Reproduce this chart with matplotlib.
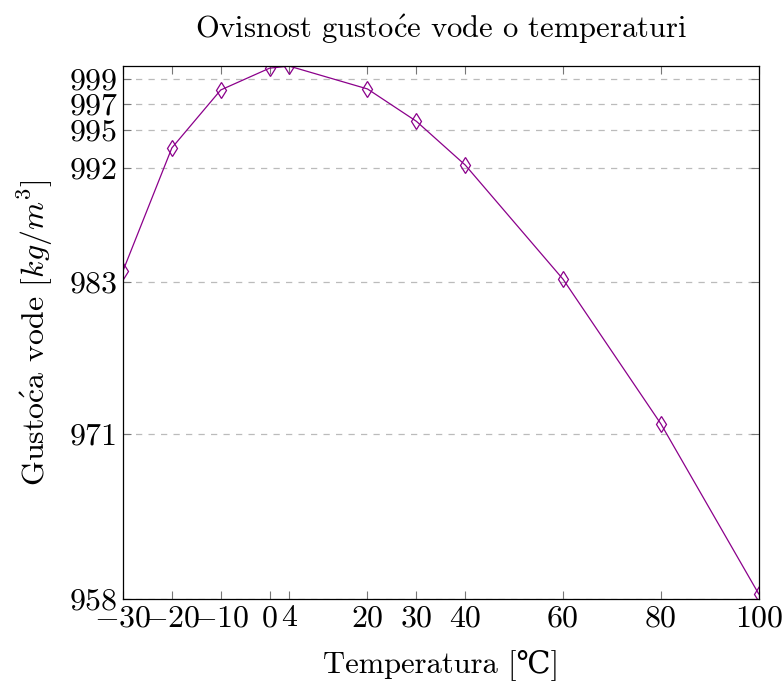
import numpy as np
import matplotlib
matplotlib.use('Agg')
import matplotlib.pyplot as plt

plt.rcParams['font.family'] = ['cmr10', 'DejaVu Serif']
plt.rcParams['mathtext.fontset'] = 'cm'
plt.rcParams['axes.formatter.use_mathtext'] = True

# podaci: temperatura [°C] i gustoća vode [kg/m^3]
temperatura = [-30, -20, -10, 0, 4, 20, 30, 40, 60, 80, 100]
gustoca = [983.85, 993.55, 998.12, 999.84, 1000.0, 998.2, 995.65, 992.2, 983.2, 971.8, 958.4]
x_ticks = [-30, -20, -10, 0, 4, 20, 30, 40, 60, 80, 100]
y_ticks = [958, 971, 983, 992, 995, 997, 999]

fig = plt.figure(figsize=(7.83, 6.85), dpi=100)
ax = fig.add_axes([0.157, 0.1255, 0.812, 0.778])

ax.plot(temperatura, gustoca, color='#8b008b', lw=0.9, marker='d',
        markersize=8, markerfacecolor='none', markeredgecolor='#8b008b', markeredgewidth=0.9)

ax.set_xlim(-30, 100)
ax.set_ylim(958, 1000)
ax.set_xticks(x_ticks)
ax.set_xticklabels([r'$%d$' % t if t < 0 else str(t) for t in x_ticks])
ax.set_yticks(y_ticks)
ax.set_yticklabels([str(t) for t in y_ticks])
ax.yaxis.grid(True, linestyle=(0, (5, 5)), color='#bbbbbb', lw=0.9)
ax.tick_params(direction='in', top=True, right=True, length=6, width=0.8,
               color='#777777', labelsize=23, pad=4)
for s in ax.spines.values():
    s.set_linewidth(0.9)

ax.set_title(r'Ovisnost gusto$\acute{\mathrm{c}}$e vode o temperaturi', fontsize=22, pad=20)
ax.set_xlabel('Temperatura [℃]', fontsize=22, labelpad=12)
ax.set_ylabel(r'Gusto$\acute{\mathrm{c}}$a vode [$kg/m^3$]', fontsize=23, labelpad=10)

fig.savefig('out.png', dpi=100)
